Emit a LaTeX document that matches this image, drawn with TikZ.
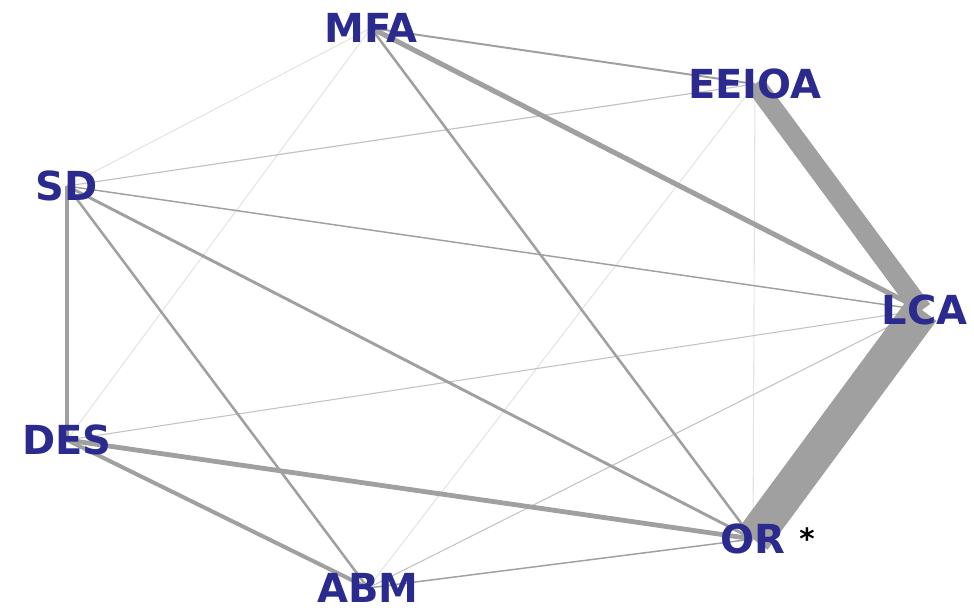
\documentclass[tikz,border=0pt]{standalone}
\usepackage{fontspec}
\setmainfont{DejaVu Sans}
\usetikzlibrary{positioning}
\definecolor{lblblue}{RGB}{43,43,143}
\definecolor{edgegrey}{RGB}{160,160,160}
\definecolor{lightgrey}{RGB}{195,195,195}
\definecolor{faintgrey}{RGB}{228,228,222}
\begin{document}
\begin{tikzpicture}[x=0.75pt, y=-0.75pt,
  lbl/.style={font=\fontsize{30}{30}\selectfont\bfseries, text=lblblue, inner sep=0pt},
  link/.style={draw=edgegrey, line width=#1},
  thin link/.style={draw=lightgrey, line width=#1},
  faint link/.style={draw=faintgrey, line width=#1}]
  \useasboundingbox (0,0) rectangle (974,612);
  % vertices
  \coordinate (MFA) at (371,28);
  \coordinate (EEIOA) at (755,84);
  \coordinate (SD) at (67,186);
  \coordinate (LCA) at (922,310);
  \coordinate (DES) at (67,440);
  \coordinate (OR) at (753,539);
  \coordinate (ABM) at (368,588);
  % faint links
  \draw[faint link=0.8pt] (MFA) -- (SD);
  \draw[faint link=0.8pt] (MFA) -- (DES);
  \draw[faint link=0.8pt] (EEIOA) -- (OR);
  \draw[faint link=0.8pt] (EEIOA) -- (ABM);
  \draw[thin link=0.8pt] (DES) -- (LCA);
  \draw[thin link=0.8pt] (ABM) -- (LCA);
  \draw[thin link=0.9pt] (SD) -- (EEIOA);
  % grey links
  \draw[link=1.1pt] (SD) -- (LCA);
  \draw[link=1.1pt] (ABM) -- (OR);
  \draw[link=1.5pt] (MFA) -- (EEIOA);
  \draw[link=1.9pt] (MFA) -- (OR);
  \draw[link=1.9pt] (SD) -- (ABM);
  \draw[link=2.2pt] (SD) -- (OR);
  \draw[link=3pt] (DES) -- (ABM);
  \draw[link=3.6pt] (DES) -- (OR);
  \draw[link=3.6pt] (SD) -- (DES);
  \draw[link=3.8pt] (MFA) -- (LCA);
  \draw[link=15pt] (EEIOA) -- (LCA);
  \draw[link=27pt] (LCA) -- (OR);
  % labels
  \node[lbl] (mfa) at (MFA) {MFA};
  \node[lbl] (eeioa) at (EEIOA) {EEIOA};
  \node[lbl] (sd) at (SD) {SD};
  \node[lbl, xshift=2pt] (lca) at (LCA) {LCA};
  \node[lbl] (des) at (DES) {DES};
  \node[lbl] (or) at (OR) {OR};
  \node[lbl] (abm) at (ABM) {ABM};
  \node[font=\fontsize{22}{22}\selectfont\bfseries, inner sep=0pt, right=10pt of or] (star) {*};
\end{tikzpicture}
\end{document}
